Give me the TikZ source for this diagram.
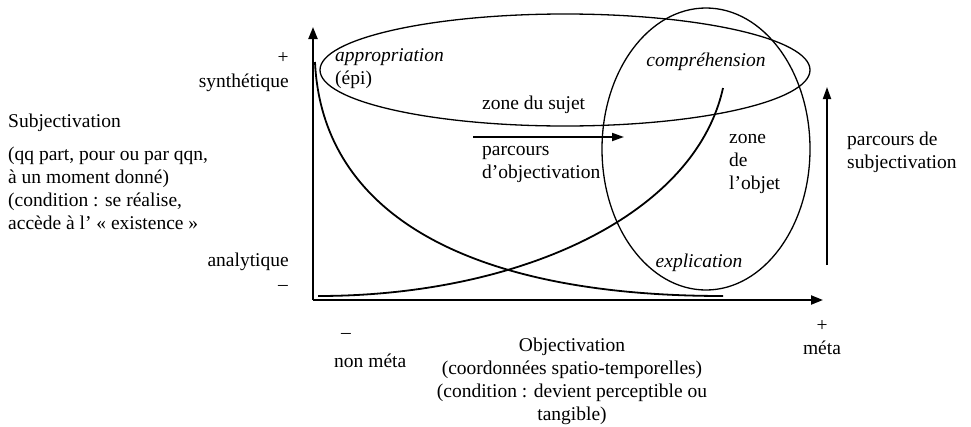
\documentclass[tikz,border=0pt]{standalone}
\usepackage{fontspec}
\setmainfont{Liberation Serif}
\usetikzlibrary{arrows.meta,shapes.geometric}

\begin{document}
\begin{tikzpicture}[x=1pt,y=-1pt,
  every node/.style={font=\fontsize{19.5}{23}\selectfont, inner sep=0pt},
  axis/.style={line width=2.1pt, -{Triangle[length=12pt,width=9pt]}},
  path arrow/.style={line width=1.8pt, -{Triangle[length=12pt,width=8pt]}},
  curve/.style={line width=1.8pt},
  zone/.style={draw, ellipse, line width=1.3pt, inner sep=0pt},
  lbl/.style={align=left, anchor=west}]
\useasboundingbox (0,0) rectangle (971,426);

% axes
\coordinate (origin) at (313,300);
\coordinate (ytip) at (313,27);
\coordinate (xtip) at (823,300);
\draw[axis] (origin) -- (ytip);
\draw[axis] (origin) -- (xtip);

% zones
\node[zone, minimum width=490, minimum height=112] (sujet) at (565,70) {};
\node[zone, minimum width=208, minimum height=282] (objet) at (706,149) {};

% curves
\coordinate (decA) at (315,62);
\coordinate (decB) at (723,296);
\coordinate (incA) at (318,296);
\coordinate (incB) at (723,88);
\draw[curve] (decA) .. controls (322,215) and (470,296) .. (decB);
\draw[curve] (incA) .. controls (520,296) and (695,215) .. (incB);

% paths
\coordinate (objA) at (473,137);
\coordinate (objB) at (624,137);
\draw[path arrow] (objA) -- (objB);
\coordinate (subA) at (827,265);
\coordinate (subB) at (827,87);
\draw[path arrow] (subA) -- (subB);

% vertical axis labels
\node (yplus) at (283,58) {+};
\node[anchor=east] (synth) at (289,83) {synthétique};
\node[anchor=east] (analy) at (289,262) {analytique};
\node (yminus) at (283,288) {–};
\node[anchor=west] (subj) at (8,123) {Subjectivation};
\node[lbl] (subjtxt) at (8,188) {(qq part, pour ou par qqn,\\à un moment donné)\\(condition : se réalise,\\accède à l’ « existence »};

% horizontal axis labels
\node (xminus) at (346,336) {–};
\node[anchor=west] (nonmeta) at (334,361) {non méta};
\node[align=center] (objtxt) at (572,381) {Objectivation\\(coordonnées spatio-temporelles)\\(condition : devient perceptible ou\\tangible)};
\node[align=center] (meta) at (822,338) {+\\méta};

% inner labels
\node[lbl] (approp) at (335,69) {\textit{appropriation}\\(épi)};
\node[anchor=west] (zsujet) at (482,105) {zone du sujet};
\node[lbl] (pobj) at (482,164) {parcours\\d’objectivation};
\node (compr) at (706,62) {\textit{compréhension}};
\node[lbl] (zobjet) at (729,164) {zone\\de\\l’objet};
\node (expl) at (699,263) {\textit{explication}};
\node[lbl] (psubj) at (847,152) {parcours de\\subjectivation};
\end{tikzpicture}
\end{document}
